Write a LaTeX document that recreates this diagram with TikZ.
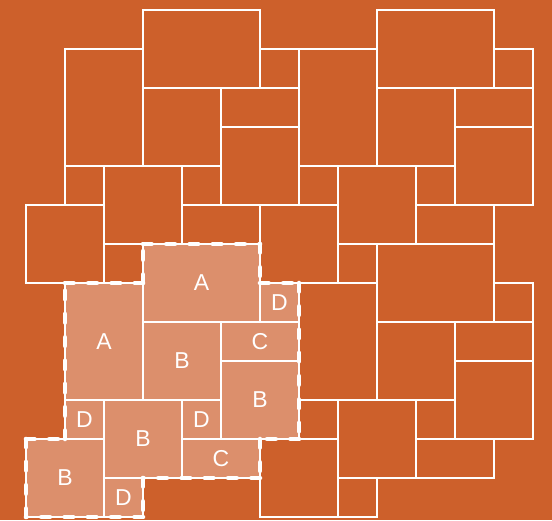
\documentclass[tikz,border=0pt]{standalone}
\usepackage{fontspec}
\setmainfont{Liberation Sans}
\definecolor{bgorange}{RGB}{205,96,43}
\definecolor{tilelight}{RGB}{220,143,108}
\tikzset{
  tile/.style={draw=white, line width=1.4pt},
  hitile/.style={tile, fill=tilelight},
  lbl/.style={text=white, font=\fontsize{23}{23}\selectfont, inner sep=0pt},
  outline/.style={draw=white, line width=4.6pt, line cap=round, dash pattern=on 8.5pt off 14.8pt}
}
\begin{document}
\begin{tikzpicture}[x=1pt,y=-1pt]
\fill[bgorange] (0,0) rectangle (552,520);
\useasboundingbox (0,0) rectangle (552,520);
% plain copies of the 12-tile unit
\foreach \ox/\oy in {0/0,6/0,6/6}{
  \foreach \a/\b/\c/\d in {3/0/6/2, 1/1/3/4, 3/2/5/4, 5/2/7/3, 5/3/7/5, 6/1/7/2,
                           1/4/2/5, 2/4/4/6, 4/4/5/5, 4/5/6/6, 0/5/2/7, 2/6/3/7}{
    \draw[tile] ({26+39*(\a+\ox)},{10+39*(\b+\oy)}) rectangle ({26+39*(\c+\ox)},{10+39*(\d+\oy)});
  }
}
% highlighted unit with labels
\foreach \a/\b/\c/\d/\l in {3/6/6/8/A, 1/7/3/10/A, 3/8/5/10/B, 5/8/7/9/C, 5/9/7/11/B, 6/7/7/8/D,
                            1/10/2/11/D, 2/10/4/12/B, 4/10/5/11/D, 4/11/6/12/C, 0/11/2/13/B, 2/12/3/13/D}{
  \draw[hitile] ({26+39*\a},{10+39*\b}) rectangle ({26+39*\c},{10+39*\d});
  \node[lbl] (lbl-\a-\b) at ({26+19.5*(\a+\c)},{10+19.5*(\b+\d)}) {\l};
}
% dashed outline of the unit
\coordinate (p1) at (143,244);
\coordinate (p2) at (260,244);
\coordinate (p3) at (260,283);
\coordinate (p4) at (299,283);
\coordinate (p5) at (299,439);
\coordinate (p6) at (260,439);
\coordinate (p7) at (260,478);
\coordinate (p8) at (143,478);
\coordinate (p9) at (143,517);
\coordinate (p10) at (26,517);
\coordinate (p11) at (26,439);
\coordinate (p12) at (65,439);
\coordinate (p13) at (65,283);
\coordinate (p14) at (143,283);
\foreach \s/\e in {p1/p2,p2/p3,p3/p4,p4/p5,p5/p6,p6/p7,p7/p8,p8/p9,p9/p10,p10/p11,p11/p12,p12/p13,p13/p14,p14/p1}{
  \draw[outline] (\s) -- (\e);
}
\end{tikzpicture}
\end{document}
